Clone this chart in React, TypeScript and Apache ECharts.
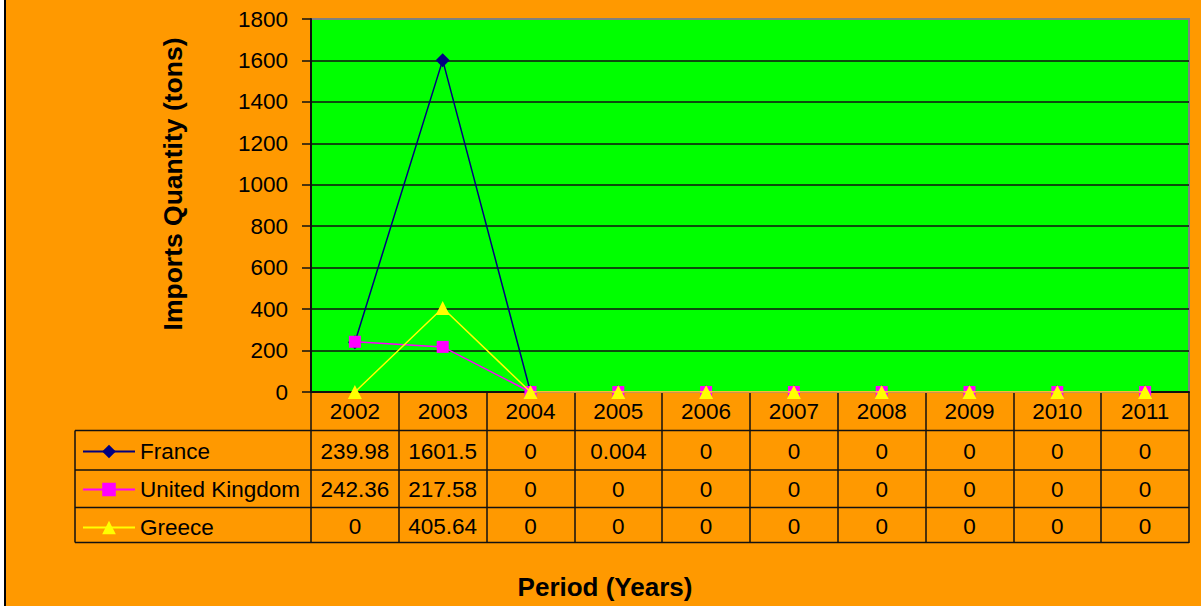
import React, { useEffect, useRef } from "react";
import * as echarts from "echarts";

const years = ["2002", "2003", "2004", "2005", "2006", "2007", "2008", "2009", "2010", "2011"];
const seriesNames = ["France", "United Kingdom", "Greece"];
const france = [239.98, 1601.5, 0, 0.004, 0, 0, 0, 0, 0, 0];
const unitedKingdom = [242.36, 217.58, 0, 0, 0, 0, 0, 0, 0, 0];
const greece = [0, 405.64, 0, 0, 0, 0, 0, 0, 0, 0];
const yTicks = { min: 0, max: 1800, interval: 200 };
const yTitle = "Imports Quantity (tons)";
const xTitle = "Period (Years)";

const FONT = "'Liberation Sans', Arial, sans-serif";
const BG = "#FF9900";
const LINE = "#111111";
const FS = 22.5;

export default function App() {
  const ref = useRef<HTMLDivElement>(null);

  useEffect(() => {
    const el = ref.current;
    if (!el) return;
    const chart = echarts.init(el, null, { renderer: "svg" });

    const gridLeft = 311;
    const gridTop = 19;
    const gridRight = 1189;
    const gridBottom = 392;
    const rowLines = [430.5, 470, 507.5, 542.5];
    const tableLeft = 75;

    const tableAxis = (vals: number[], offset: number) => ({
      type: "category",
      data: years,
      gridIndex: 0,
      position: "bottom",
      offset,
      boundaryGap: true,
      axisLine: { show: false },
      axisTick: { show: false },
      splitLine: { show: false },
      axisLabel: {
        interval: 0,
        margin: 8,
        fontSize: FS,
        fontFamily: FONT,
        color: "#000",
        formatter: (_v: string, i: number) => String(vals[i]),
      },
    });

    const graphics: any[] = [];
    rowLines.forEach((y) => {
      graphics.push({
        type: "line",
        shape: { x1: tableLeft, y1: y, x2: gridRight, y2: y },
        style: { stroke: LINE, lineWidth: 1.5 },
        z: 100,
      });
    });
    graphics.push({
      type: "line",
      shape: { x1: tableLeft, y1: rowLines[0], x2: tableLeft, y2: rowLines[3] },
      style: { stroke: LINE, lineWidth: 1.5 },
      z: 100,
    });
    graphics.push({
      type: "line",
      shape: { x1: 5, y1: 0, x2: 5, y2: 606 },
      style: { stroke: "#000", lineWidth: 2 },
      z: 100,
    });
    graphics.push({
      type: "rect",
      shape: { x: 0, y: 0, width: 4, height: 606 },
      style: { fill: "#ffffff" },
      z: 100,
    });
    graphics.push({
      type: "text",
      x: 173,
      y: 184,
      rotation: Math.PI / 2,
      style: {
        text: yTitle,
        fontSize: 26.5,
        fontWeight: "bold",
        fontFamily: FONT,
        fill: "#000",
        align: "center",
        verticalAlign: "middle",
      },
    });
    graphics.push({
      type: "text",
      x: 605,
      y: 587,
      style: {
        text: xTitle,
        fontSize: 26,
        fontWeight: "bold",
        fontFamily: FONT,
        fill: "#000",
        align: "center",
        verticalAlign: "middle",
      },
    });

    const option: any = {
      animation: false,
      backgroundColor: BG,
      grid: {
        left: gridLeft,
        top: gridTop,
        width: gridRight - gridLeft,
        height: gridBottom - gridTop,
        show: true,
        backgroundColor: "#00FF00",
        borderColor: "#808080",
        borderWidth: 2,
      },
      legend: {
        orient: "vertical",
        left: 77,
        top: 435,
        itemWidth: 52,
        itemHeight: 17,
        itemGap: 15,
        data: seriesNames,
        textStyle: { fontSize: FS, lineHeight: 22, fontFamily: FONT, color: "#000" },
        selectedMode: false,
      },
      xAxis: [
        {
          type: "category",
          data: years,
          boundaryGap: true,
          axisLine: { show: true, lineStyle: { color: LINE, width: 2 } },
          axisTick: { show: true, interval: 0, length: 151, lineStyle: { color: LINE, width: 1.5 } },
          axisLabel: { interval: 0, margin: 8, fontSize: FS, fontFamily: FONT, color: "#000" },
          splitLine: { show: false },
        },
        tableAxis(france, 40),
        tableAxis(unitedKingdom, 78),
        tableAxis(greece, 115),
      ],
      yAxis: {
        type: "value",
        min: yTicks.min,
        max: yTicks.max,
        interval: yTicks.interval,
        axisLine: { show: true, lineStyle: { color: LINE, width: 2 } },
        axisTick: { show: true, length: 9, lineStyle: { color: LINE, width: 1.5 } },
        axisLabel: {
          margin: 23,
          fontSize: FS,
          fontFamily: FONT,
          color: "#000",
          formatter: (v: number) => String(v),
        },
        splitLine: { show: true, showMaxLine: false, lineStyle: { color: LINE, width: 1.5 } },
      },
      series: [
        {
          name: seriesNames[0],
          type: "line",
          data: france,
          symbol: "diamond",
          symbolSize: 14,
          lineStyle: { color: "#000080", width: 1.5 },
          itemStyle: { color: "#000080" },
          z: 2,
        },
        {
          name: seriesNames[1],
          type: "line",
          data: unitedKingdom,
          symbol: "rect",
          symbolSize: 12,
          lineStyle: { color: "#FF00FF", width: 1.5 },
          itemStyle: { color: "#FF00FF" },
          z: 3,
        },
        {
          name: seriesNames[2],
          type: "line",
          data: greece,
          symbol: "triangle",
          symbolSize: 14,
          lineStyle: { color: "#FFFF00", width: 1.5 },
          itemStyle: { color: "#FFFF00" },
          z: 4,
        },
      ],
      graphic: graphics,
    };

    chart.setOption(option);
    return () => chart.dispose();
  }, []);

  return (
    <div
      ref={ref}
      style={{ position: "fixed", left: 0, top: 0, width: 1201, height: 606 }}
    />
  );
}
